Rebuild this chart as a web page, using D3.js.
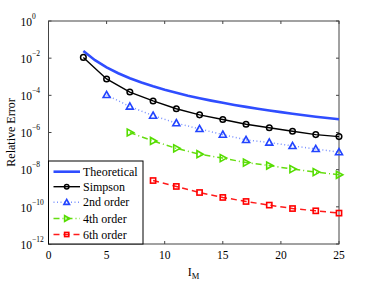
<!DOCTYPE html>
<html><head><meta charset="utf-8">
<script src="https://cdn.jsdelivr.net/npm/d3@7"></script>
<style>body{margin:0;background:#fff}svg{display:block}</style>
</head><body><svg id="c" width="374" height="281"></svg>
<script>
const xTicks = [0,5,10,15,20,25];
const yExponents = [0,-2,-4,-6,-8,-10,-12];
const theoX = [3,4,5,6,7,8,9,10,11,12,13,14,15,16,17,18,19,20,21,22,23,24,25];
const theoY = [2.45e-2,7.8e-3,3.2e-3,1.54e-3,8.3e-4,4.9e-4,3.05e-4,2.0e-4,1.37e-4,9.6e-5,7.0e-5,5.2e-5,3.95e-5,3.05e-5,2.4e-5,1.9e-5,1.53e-5,1.25e-5,1.03e-5,8.5e-6,7.1e-6,6.0e-6,5.2e-6];
const simpX = [3,5,7,9,11,13,15,17,19,21,23,25];
const simpY = [1.1e-2,7.6e-4,1.5e-4,5e-5,1.9e-5,8.9e-6,5e-6,2.8e-6,1.8e-6,1.17e-6,7.7e-7,6e-7];
const o2X = [5,7,9,11,13,15,17,19,21,23,25];
const o2Y = [1.05e-4,2.5e-5,8.1e-6,3.2e-6,1.55e-6,7.7e-7,4e-7,2.9e-7,1.9e-7,1.3e-7,8.7e-8];
const o4X = [7,9,11,13,15,17,19,21,23,25];
const o4Y = [1e-6,3.5e-7,1.4e-7,6.8e-8,4.2e-8,2.4e-8,1.66e-8,1.07e-8,7.4e-9,5.3e-9];
const o6X = [9,11,13,15,17,19,21,23,25];
const o6Y = [2.6e-9,1.25e-9,5.9e-10,3.2e-10,1.94e-10,1.24e-10,8.1e-11,6.1e-11,4.6e-11];
const names = ["Theoretical","Simpson","2nd order","4th order","6th order"];

const svg = d3.select("#c");
const FF="'Liberation Serif', 'DejaVu Serif', serif";
const L=48.5,R=339,T=21,B=244;
const x = d3.scaleLinear().domain([0,25]).range([L,R]);
const y = d3.scaleLog().domain([1e-12,1]).range([B,T]);

const g = svg.append("g");
const tickC="#444";
xTicks.forEach(t=>{
  g.append("line").attr("x1",x(t)).attr("x2",x(t)).attr("y1",B).attr("y2",B-3).attr("stroke",tickC);
  g.append("line").attr("x1",x(t)).attr("x2",x(t)).attr("y1",T).attr("y2",T+3).attr("stroke",tickC);
  g.append("text").attr("font-family",FF).attr("x",x(t)).attr("y",258.5).attr("text-anchor","middle").attr("font-size",11.5).text(t);
});
yExponents.forEach(e=>{
  const yy=y(Math.pow(10,e));
  g.append("line").attr("x1",L).attr("x2",L+3).attr("y1",yy).attr("y2",yy).attr("stroke",tickC);
  g.append("line").attr("x1",R).attr("x2",R-3).attr("y1",yy).attr("y2",yy).attr("stroke",tickC);
  const tx=g.append("text").attr("font-family",FF).attr("x",20.5).attr("y",yy+4.8).attr("font-size",11.5);
  tx.append("tspan").text("10");
  tx.append("tspan").attr("font-size",7.5).attr("dy",-7).text(e===0?"0":("\u2212"+(-e)));
});
g.append("rect").attr("x",L).attr("y",T).attr("width",R-L).attr("height",B-T).attr("fill","none").attr("stroke",tickC).attr("stroke-width",1);

svg.append("text").attr("font-family",FF).attr("transform",`translate(14.5,${(T+B)/2}) rotate(-90)`).attr("text-anchor","middle").attr("font-size",12).text("Relative Error");
const xl=svg.append("text").attr("font-family",FF).attr("x",193.5).attr("y",276).attr("text-anchor","middle").attr("font-size",12);
xl.append("tspan").text("I");
xl.append("tspan").attr("font-size",8.5).attr("dy",3).text("M");

const line = d3.line().x(d=>x(d[0])).y(d=>y(d[1]));
const zip=(a,b)=>a.map((v,i)=>[v,b[i]]);

const styles = [
  {data:zip(theoX,theoY),stroke:"#2f4dff",w:2.6,dash:null,marker:null,mc:null},
  {data:zip(simpX,simpY),stroke:"#000",w:1.4,dash:null,marker:"circle",mc:"#000"},
  {data:zip(o2X,o2Y),stroke:"#7a92ff",w:1.5,dash:"1,2.5",marker:"tri",mc:"#2244ff"},
  {data:zip(o4X,o4Y),stroke:"#66dd11",w:1.5,dash:"6,3,1,3",marker:"rtri",mc:"#55dd00"},
  {data:zip(o6X,o6Y),stroke:"#ff1a1a",w:1.5,dash:"6,4",marker:"sq",mc:"#ff0000"}
];
function drawMarker(sel,type,cx,cy,c,s){
  if(type==="circle") sel.append("circle").attr("cx",cx).attr("cy",cy).attr("r",2.8*s).attr("fill","none").attr("stroke",c).attr("stroke-width",1.5);
  else if(type==="tri") sel.append("path").attr("d",`M${cx},${cy-3.6*s}L${cx+3.5*s},${cy+2.6*s}L${cx-3.5*s},${cy+2.6*s}Z`).attr("fill","none").attr("stroke",c).attr("stroke-width",1.6);
  else if(type==="rtri") sel.append("path").attr("d",`M${cx+3.8*s},${cy}L${cx-2.6*s},${cy+3.5*s}L${cx-2.6*s},${cy-3.5*s}Z`).attr("fill","none").attr("stroke",c).attr("stroke-width",1.6);
  else if(type==="sq") sel.append("rect").attr("x",cx-2.6*s).attr("y",cy-2.6*s).attr("width",5.2*s).attr("height",5.2*s).attr("fill","none").attr("stroke",c).attr("stroke-width",1.6);
}
const pg=svg.append("g");
styles.forEach(st=>{
  pg.append("path").attr("d",line(st.data)).attr("fill","none").attr("stroke",st.stroke).attr("stroke-width",st.w).attr("stroke-dasharray",st.dash);
  if(st.marker) st.data.forEach(d=>drawMarker(pg,st.marker,x(d[0]),y(d[1]),st.mc,1));
});

const lg=svg.append("g");
lg.append("rect").attr("x",L).attr("y",161).attr("width",143-L).attr("height",B-161).attr("fill","#fff").attr("stroke","#000").attr("stroke-width",1);
const rowY=[171.7,186.7,202.3,218.5,234.5];
styles.forEach((st,i)=>{
  const yy=rowY[i];
  lg.append("line").attr("x1",53.5).attr("x2",80).attr("y1",yy).attr("y2",yy).attr("stroke",st.stroke).attr("stroke-width",st.w).attr("stroke-dasharray",st.dash);
  if(st.marker) drawMarker(lg,st.marker,66.7,yy,st.mc,0.8);
  lg.append("text").attr("font-family",FF).attr("x",83).attr("y",yy+4).attr("font-size",12).text(names[i]);
});
</script></body></html>
